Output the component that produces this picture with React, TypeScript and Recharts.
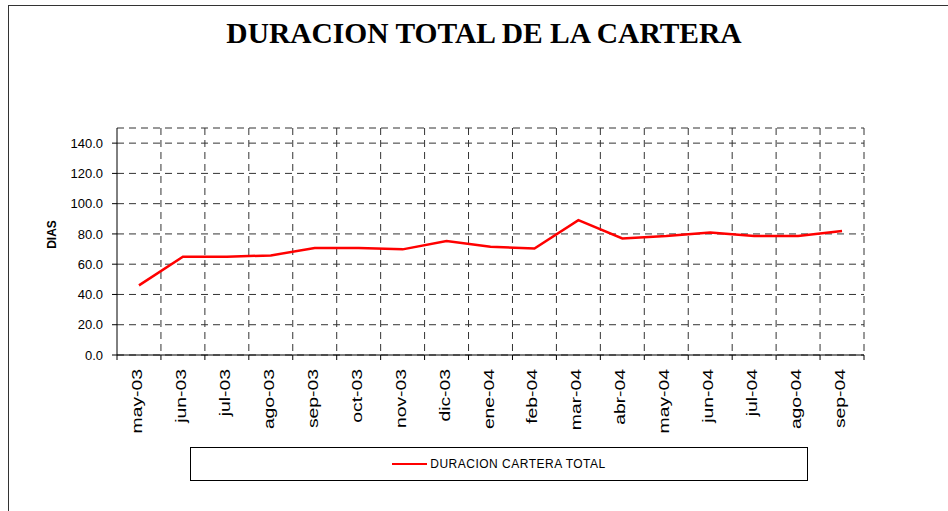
import { CartesianGrid, Legend, Line, LineChart, XAxis, YAxis } from 'recharts'

const months = [
  'may-03', 'jun-03', 'jul-03', 'ago-03', 'sep-03', 'oct-03', 'nov-03', 'dic-03',
  'ene-04', 'feb-04', 'mar-04', 'abr-04', 'may-04', 'jun-04', 'jul-04', 'ago-04', 'sep-04',
]
const duracion = [46.0, 64.9, 65.0, 65.8, 70.7, 70.7, 69.8, 75.3, 71.5, 70.4, 89.1, 77.0, 78.6, 81.0, 78.6, 78.6, 81.9]
const yTicks = [0, 20, 40, 60, 80, 100, 120, 140]

const data = months.map((m, i) => ({ name: m, total: duracion[i] }))

const W = 948
const H = 511
const MARGIN = { top: 128, right: 84, left: 0, bottom: 0 }
const Y_WIDTH = 117
const X_HEIGHT = 156
const PLOT_W = W - MARGIN.right - Y_WIDTH
const BAND = PLOT_W / months.length
const SANS = '"Liberation Sans", Arial, sans-serif'

// eslint-disable-next-line @typescript-eslint/no-explicit-any
function MonthTick(props: any) {
  const { x, y, payload, index } = props
  const axisY = y - 14
  const left = x - BAND / 2
  return (
    <g>
      <line x1={left} y1={axisY} x2={left} y2={axisY + 5} stroke="#000" />
      {index === months.length - 1 && (
        <line x1={x + BAND / 2} y1={axisY} x2={x + BAND / 2} y2={axisY + 5} stroke="#000" />
      )}
      <g transform={`translate(${x},${y}) rotate(-90) scale(1.38,1)`}>
        <text x={0} y={0} dy={3} textAnchor="end" fontSize={14} fontFamily={SANS} fill="#000">
          {payload.value}
        </text>
      </g>
    </g>
  )
}

// eslint-disable-next-line @typescript-eslint/no-explicit-any
function DiasLabel(props: any) {
  const vb = props.viewBox || { x: 0, y: MARGIN.top, height: 227 }
  const cx = vb.x + 56
  const cy = vb.y + vb.height / 2 - 7
  return (
    <text x={cx} y={cy} transform={`rotate(-90, ${cx}, ${cy})`} textAnchor="middle"
      fontSize={12} fontWeight="bold" fontFamily={SANS} fill="#000">
      DIAS
    </text>
  )
}

function LegendBox() {
  return (
    <div style={{
      width: '100%', height: '100%', border: '1px solid #000', boxSizing: 'border-box',
      display: 'flex', alignItems: 'center', justifyContent: 'center', background: '#fff',
    }}>
      <span style={{ display: 'inline-block', width: 35, height: 2, background: '#ff0000', marginRight: 3 }} />
      <span style={{ fontFamily: SANS, fontSize: 12, letterSpacing: 0.5, color: '#000' }}>DURACION CARTERA TOTAL</span>
    </div>
  )
}

export default function App() {
  return (
    <div style={{ position: 'absolute', left: 0, top: 0, width: W, height: H, overflow: 'hidden', background: '#fff' }}>
      <div style={{
        position: 'absolute', left: 8, top: 5, width: W + 20, height: H + 20,
        border: '1px solid #333', boxSizing: 'border-box',
      }} />
      <div style={{
        position: 'absolute', left: 0, top: 17, width: 968, textAlign: 'center',
        fontFamily: '"Liberation Serif", "Times New Roman", serif', fontWeight: 'bold', fontSize: 29.5,
      }}>
        DURACION TOTAL DE LA CARTERA
      </div>
      <LineChart width={W} height={H} data={data} margin={MARGIN} style={{ position: 'absolute', left: 0, top: 0 }}>
        <CartesianGrid stroke="#333" strokeDasharray="7 5"
          // eslint-disable-next-line @typescript-eslint/no-explicit-any
          verticalCoordinatesGenerator={({ offset }: any) =>
            months.map((_, k) => offset.left + (k + 1) * offset.width / months.length)} />
        <XAxis dataKey="name" height={X_HEIGHT} interval={0} tickLine={false} tickSize={5} tickMargin={9}
          padding={{ left: BAND / 2, right: BAND / 2 }}
          axisLine={{ stroke: '#000' }} tick={<MonthTick />} />
        <YAxis width={Y_WIDTH} domain={[0, 150]} ticks={yTicks} tickFormatter={(v: number) => v.toFixed(1)}
          tickSize={5} tickMargin={9} axisLine={{ stroke: '#000' }} tickLine={{ stroke: '#000' }}
          tick={{ fontSize: 13, fontFamily: SANS, fill: '#000' }} label={<DiasLabel />} />
        <Legend verticalAlign="middle" align="center" layout="horizontal" content={<LegendBox />}
          wrapperStyle={{ position: 'absolute', left: 190, top: 447, width: 618, height: 34 }} />
        <Line type="linear" dataKey="total" name="DURACION CARTERA TOTAL" stroke="#ff0000" strokeWidth={2.5}
          dot={false} activeDot={false} isAnimationActive={false} />
      </LineChart>
    </div>
  )
}
